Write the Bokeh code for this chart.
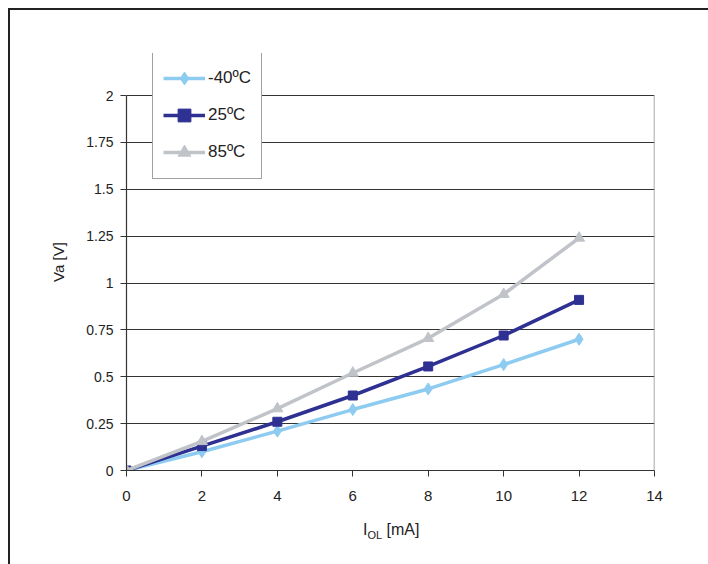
from bokeh.plotting import figure
from bokeh.models import Range1d, FixedTicker, Legend, LegendItem, Div
from bokeh.layouts import column
from bokeh.embed import file_html
from bokeh.resources import INLINE

# Data
current_ma = [0, 2, 4, 6, 8, 10, 12]
v_m40 = [0, 0.10, 0.21, 0.325, 0.435, 0.565, 0.70]
v_25 = [0, 0.13, 0.26, 0.40, 0.555, 0.72, 0.91]
v_85 = [0, 0.155, 0.33, 0.52, 0.705, 0.94, 1.24]
series_names = ["-40ºC", "25ºC", "85ºC"]
x_ticks = [0, 2, 4, 6, 8, 10, 12, 14]
y_ticks = [0, 0.25, 0.5, 0.75, 1, 1.25, 1.5, 1.75, 2]
y_tick_labels = ["0", "0.25", "0.5", "0.75", "1", "1.25", "1.5", "1.75", "2"]

FONT = "Liberation Sans"
TXT = "#222222"

# frame: 528 x 417 px; y range extended above 2 so the legend fits inside the frame
p = figure(width=698, height=500, output_backend="svg", toolbar_location=None,
           x_range=Range1d(0, 14), y_range=Range1d(0, 2.224),
           min_border_left=116, min_border_right=54, min_border_top=43, min_border_bottom=40)

p.background_fill_color = "white"
p.border_fill_color = "white"
p.outline_line_color = None

p.xgrid.grid_line_color = None
p.ygrid.grid_line_color = "#333333"
p.ygrid.grid_line_width = 1

p.xaxis.ticker = FixedTicker(ticks=x_ticks)
p.yaxis.ticker = FixedTicker(ticks=y_ticks)
p.yaxis.bounds = (y_ticks[0], y_ticks[-1])
p.yaxis.major_label_overrides = {t: l for t, l in zip(y_ticks, y_tick_labels)}
for ax in (p.xaxis, p.yaxis):
    ax.axis_line_color = "#333333"
    ax.axis_line_width = 1.2
    ax.major_tick_line_color = "#333333"
    ax.major_tick_out = 6
    ax.major_tick_in = 0
    ax.minor_tick_line_color = None
    ax.major_label_text_font = FONT
    ax.major_label_text_color = TXT
p.xaxis.major_label_text_font_size = "15px"
p.yaxis.major_label_text_font_size = "14px"
p.xaxis.major_label_standoff = 14
p.yaxis.major_label_standoff = 7

p.yaxis.axis_label = "Va [V]"
p.yaxis.axis_label_text_font = FONT
p.yaxis.axis_label_text_font_size = "15px"
p.yaxis.axis_label_text_font_style = "normal"
p.yaxis.axis_label_text_color = TXT
p.yaxis.axis_label_standoff = 16

# right border of the plot area (from 0 to the top tick only)
p.segment(x0=x_ticks[-1], y0=y_ticks[0], x1=x_ticks[-1], y1=y_ticks[-1],
          line_color="#8a8a8a", line_width=1.5)

colors = ["#8ecbf0", "#2e3192", "#c0c4c9"]
markers = ["diamond", "square", "triangle"]
sizes = [12, 9, 11]
renders = {}
for name, ys, c, m, s in zip(series_names, [v_m40, v_25, v_85], colors, markers, sizes):
    r1 = p.line(current_ma, ys, line_color=c, line_width=3.5)
    r2 = p.scatter(current_ma, ys, marker=m, size=s, fill_color=c, line_color=c)
    renders[name] = (r1, r2)

items = [LegendItem(label=name, renderers=list(renders[name])) for name in series_names]
legend = Legend(items=items, location=(26, 291), orientation="vertical")
legend.label_text_font = FONT
legend.label_text_font_size = "17px"
legend.label_text_color = TXT
legend.glyph_width = 42
legend.glyph_height = 32
legend.spacing = 5
legend.padding = 10
legend.margin = 0
legend.label_standoff = 3
legend.border_line_color = "#444444"
legend.border_line_width = 1.5
legend.background_fill_color = "white"
legend.background_fill_alpha = 1
p.add_layout(legend, "center")

xlabel = Div(text='<span style="font-family:\'Liberation Sans\';font-size:16px;color:#222">'
                  'I<sub style="font-size:11px">OL</sub> [mA]</span>',
             width=698, height=54,
             styles={"padding-left": "348px", "padding-top": "4px", "box-sizing": "border-box"})

root = column(p, xlabel, spacing=0,
              styles={"margin-left": "8px", "margin-top": "8px",
                      "border-top": "2px solid #222", "border-left": "2px solid #222",
                      "background-color": "white"})

open("out.html", "w").write(file_html(root, INLINE))
